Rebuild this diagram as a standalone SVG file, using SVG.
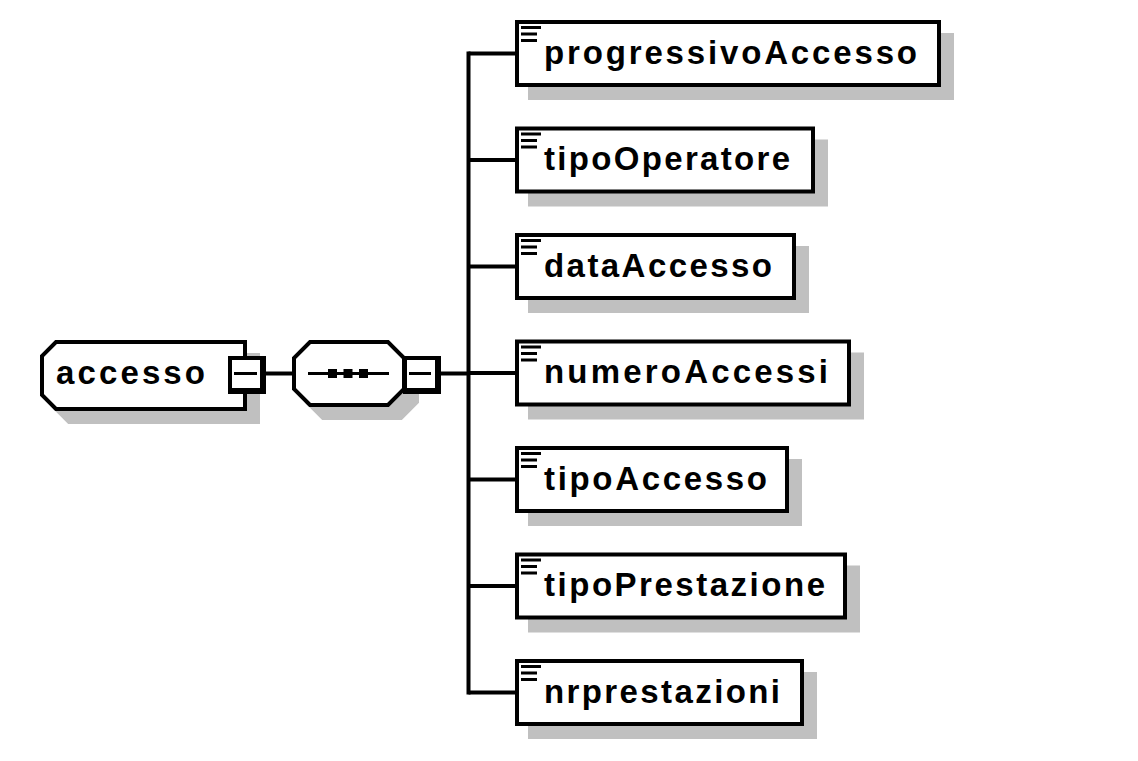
<svg xmlns="http://www.w3.org/2000/svg" width="1138" height="761" viewBox="0 0 1138 761">
<style>
.box{fill:#fff;stroke:#000;stroke-width:4}
.sh{fill:#c0c0c0;stroke:none}
.ln{stroke:#000;stroke-width:4;fill:none}
.lbl{font-family:"Liberation Sans",Arial,sans-serif;font-weight:bold;font-size:33px;fill:#000}
.ic{fill:#000}
</style>
<rect x="0" y="0" width="1138" height="761" fill="#fff"/>
<g id="connectors">
<line class="ln" x1="266" y1="373.5" x2="294" y2="373.5"/>
<line class="ln" x1="441" y1="373.5" x2="468.5" y2="373.5"/>
<line class="ln" x1="468.5" y1="51.5" x2="468.5" y2="694.5"/>
<line class="ln" x1="468.5" y1="53.5" x2="517" y2="53.5"/>
<line class="ln" x1="468.5" y1="160" x2="517" y2="160"/>
<line class="ln" x1="468.5" y1="266.5" x2="517" y2="266.5"/>
<line class="ln" x1="468.5" y1="373" x2="517" y2="373"/>
<line class="ln" x1="468.5" y1="479.5" x2="517" y2="479.5"/>
<line class="ln" x1="468.5" y1="586" x2="517" y2="586"/>
<line class="ln" x1="468.5" y1="692.5" x2="517" y2="692.5"/>
</g>
<g id="accesso">
<path d="M56,342 L245,342 L245,409 L56,409 L42,395 L42,356 Z" transform="translate(13,13)" fill="#c0c0c0" stroke="#c0c0c0" stroke-width="4"/>
<path class="box" d="M56,342 L245,342 L245,409 L56,409 L42,395 L42,356 Z"/>
<text class="lbl" x="56" y="384" textLength="149">accesso</text>
<rect x="228" y="356" width="38" height="38" fill="#000"/>
<rect x="232" y="360" width="28" height="28" fill="#fff"/>
<rect x="234" y="372" width="23" height="3" fill="#000"/>
</g>
<g id="sequence">
<path d="M310,342 L388,342 L404,358 L404,389 L388,405 L310,405 L294,389 L294,358 Z" transform="translate(13,13)" fill="#c0c0c0" stroke="#c0c0c0" stroke-width="4"/>
<path class="box" d="M310,342 L388,342 L404,358 L404,389 L388,405 L310,405 L294,389 L294,358 Z"/>
<rect x="308" y="372" width="81" height="3" fill="#000"/>
<rect x="328" y="369" width="9" height="9" fill="#000"/>
<rect x="343.5" y="369" width="9" height="9" fill="#000"/>
<rect x="359" y="369" width="9" height="9" fill="#000"/>
<rect x="403" y="356" width="38" height="38" fill="#000"/>
<rect x="407" y="360" width="28" height="28" fill="#fff"/>
<rect x="409" y="372" width="22" height="3" fill="#000"/>
</g>
<g id="progressivoAccesso">
<rect class="sh" x="528" y="33" width="426" height="67"/>
<rect class="box" x="517" y="22" width="422" height="63"/>
<rect class="ic" x="521" y="26" width="20" height="3"/><rect class="ic" x="521" y="32.5" width="16" height="3"/><rect class="ic" x="521" y="39" width="16" height="3"/>
<text class="lbl" x="544" y="63.5" textLength="373">progressivoAccesso</text>
</g>
<g id="tipoOperatore">
<rect class="sh" x="528" y="139.5" width="300" height="67"/>
<rect class="box" x="517" y="128.5" width="296" height="63"/>
<rect class="ic" x="521" y="132.5" width="20" height="3"/><rect class="ic" x="521" y="139" width="16" height="3"/><rect class="ic" x="521" y="145.5" width="16" height="3"/>
<text class="lbl" x="544" y="170" textLength="246">tipoOperatore</text>
</g>
<g id="dataAccesso">
<rect class="sh" x="528" y="246" width="281" height="67"/>
<rect class="box" x="517" y="235" width="277" height="63"/>
<rect class="ic" x="521" y="239" width="20" height="3"/><rect class="ic" x="521" y="245.5" width="16" height="3"/><rect class="ic" x="521" y="252" width="16" height="3"/>
<text class="lbl" x="544" y="276.5" textLength="228">dataAccesso</text>
</g>
<g id="numeroAccessi">
<rect class="sh" x="528" y="352.5" width="336" height="67"/>
<rect class="box" x="517" y="341.5" width="332" height="63"/>
<rect class="ic" x="521" y="345.5" width="20" height="3"/><rect class="ic" x="521" y="352" width="16" height="3"/><rect class="ic" x="521" y="358.5" width="16" height="3"/>
<text class="lbl" x="544" y="383" textLength="284">numeroAccessi</text>
</g>
<g id="tipoAccesso">
<rect class="sh" x="528" y="459" width="274" height="67"/>
<rect class="box" x="517" y="448" width="270" height="63"/>
<rect class="ic" x="521" y="452" width="20" height="3"/><rect class="ic" x="521" y="458.5" width="16" height="3"/><rect class="ic" x="521" y="465" width="16" height="3"/>
<text class="lbl" x="544" y="489.5" textLength="223">tipoAccesso</text>
</g>
<g id="tipoPrestazione">
<rect class="sh" x="528" y="565.5" width="332" height="67"/>
<rect class="box" x="517" y="554.5" width="328" height="63"/>
<rect class="ic" x="521" y="558.5" width="20" height="3"/><rect class="ic" x="521" y="565" width="16" height="3"/><rect class="ic" x="521" y="571.5" width="16" height="3"/>
<text class="lbl" x="544" y="596" textLength="281">tipoPrestazione</text>
</g>
<g id="nrprestazioni">
<rect class="sh" x="528" y="672" width="289" height="67"/>
<rect class="box" x="517" y="661" width="285" height="63"/>
<rect class="ic" x="521" y="665" width="20" height="3"/><rect class="ic" x="521" y="671.5" width="16" height="3"/><rect class="ic" x="521" y="678" width="16" height="3"/>
<text class="lbl" x="544" y="702.5" textLength="236">nrprestazioni</text>
</g>
</svg>
